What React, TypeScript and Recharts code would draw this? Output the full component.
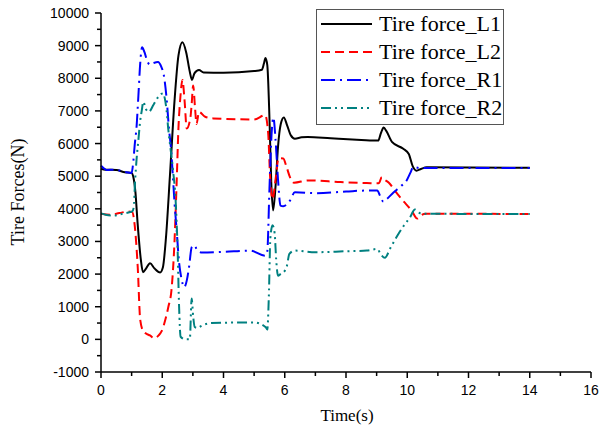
import React from "react";
import { LineChart, Line, XAxis, YAxis } from "recharts";

// [time (s), force (N)]
const tireL1: [number, number][] = [
  [0, 5230], [0.15, 5200], [0.5, 5190], [0.78, 5120], [1.0, 5100], [1.05, 5000],
  [1.12, 4550], [1.2, 3500], [1.3, 2450], [1.37, 2060], [1.47, 2170], [1.6, 2330],
  [1.75, 2170], [1.93, 2050], [2.02, 2200], [2.12, 3100], [2.25, 5000], [2.4, 7300],
  [2.53, 8700], [2.66, 9100], [2.78, 8800], [2.9, 8200], [2.97, 7950], [3.05, 8150],
  [3.2, 8250], [3.35, 8180], [4.0, 8170], [5.0, 8220], [5.25, 8260], [5.32, 8450],
  [5.37, 8620], [5.43, 8400], [5.5, 6800], [5.56, 4800], [5.62, 3950], [5.7, 4700],
  [5.78, 5900], [5.87, 6600], [5.97, 6800], [6.08, 6550], [6.2, 6250], [6.33, 6150],
  [6.55, 6190], [6.75, 6200], [7.5, 6160], [8.5, 6110], [9.05, 6090], [9.14, 6320],
  [9.23, 6490], [9.32, 6380], [9.5, 6050], [9.87, 5840], [10.05, 5680], [10.18, 5300],
  [10.3, 5170], [10.45, 5220], [10.63, 5270], [14, 5260],
];

const tireL2: [number, number][] = [
  [0, 3850], [0.3, 3820], [0.6, 3870], [0.9, 3920], [1.02, 3900], [1.1, 3500],
  [1.2, 2200], [1.28, 600], [1.38, 250], [1.49, 170], [1.6, 120], [1.74, 30],
  [1.88, 120], [1.98, 250], [2.1, 600], [2.2, 1000], [2.3, 1500], [2.4, 3000],
  [2.47, 4800], [2.53, 6500], [2.59, 7400], [2.66, 7950], [2.73, 7300], [2.8, 6460],
  [2.92, 6800], [2.96, 7200], [3.01, 7780], [3.07, 7100], [3.12, 6600], [3.2, 6970],
  [3.4, 6820], [3.67, 6770], [5.0, 6740], [5.36, 6870], [5.46, 6300], [5.52, 5000],
  [5.6, 4300], [5.7, 4900], [5.8, 5550], [5.95, 5540], [6.06, 5280], [6.17, 4970],
  [6.3, 4800], [6.77, 4870], [7.82, 4820], [8.68, 4790], [9.07, 4780], [9.17, 4970],
  [9.25, 4900], [9.4, 4800], [9.6, 4550], [9.86, 4250], [10.14, 3950], [10.33, 3700],
  [10.45, 3800], [10.6, 3850], [14, 3840],
];

const tireR1: [number, number][] = [
  [0, 5320], [0.08, 5250], [0.18, 5190], [0.45, 5200], [0.78, 5130], [1.0, 5100],
  [1.05, 5400], [1.1, 5950], [1.16, 6500], [1.22, 7450], [1.28, 8450], [1.34, 8950],
  [1.42, 8800], [1.5, 8550], [1.6, 8420], [1.72, 8470], [1.86, 8500], [1.97, 8350],
  [2.05, 8100], [2.14, 7400], [2.22, 6450], [2.29, 5800], [2.35, 4950], [2.4, 4200],
  [2.47, 3350], [2.55, 2350], [2.63, 1850], [2.72, 1600], [2.8, 1800], [2.88, 2250],
  [2.96, 2820], [3.05, 2880], [3.15, 2720], [3.3, 2660], [4.0, 2680], [4.87, 2720],
  [5.36, 2560], [5.43, 2700], [5.5, 4600], [5.57, 6300], [5.63, 6800], [5.7, 6100],
  [5.78, 4900], [5.86, 4100], [5.95, 4080], [6.17, 4250], [6.33, 4510], [7.0, 4480],
  [8.0, 4530], [8.68, 4560], [9.02, 4560], [9.12, 4380], [9.22, 4220], [9.33, 4300],
  [9.55, 4500], [9.8, 4700], [9.98, 4870], [10.1, 5100], [10.2, 5280], [10.4, 5250],
  [14, 5250],
];

const tireR2: [number, number][] = [
  [0, 3860], [0.15, 3820], [0.4, 3790], [0.7, 3850], [0.95, 3900], [1.02, 3920],
  [1.07, 4050], [1.11, 4800], [1.16, 5500], [1.22, 6100], [1.28, 6700], [1.33, 7000],
  [1.38, 7280], [1.47, 7050], [1.56, 6970], [1.71, 7180], [1.87, 7430], [1.97, 7520],
  [2.03, 7540], [2.08, 7400], [2.14, 7020], [2.2, 6410], [2.25, 6000], [2.35, 5200],
  [2.44, 4200], [2.5, 2800], [2.55, 1000], [2.6, 80], [2.75, 0], [2.9, 0],
  [2.96, 1250], [3.01, 700], [3.06, 380], [3.15, 350], [3.29, 420], [3.6, 500],
  [5.0, 520], [5.38, 370], [5.43, 300], [5.48, 1300], [5.53, 3100], [5.6, 3500],
  [5.67, 3250], [5.72, 2450], [5.78, 1950], [5.86, 2000], [6.0, 2100], [6.07, 2250],
  [6.15, 2620], [6.33, 2720], [7.0, 2670], [8.0, 2700], [8.68, 2720], [9.02, 2770],
  [9.14, 2600], [9.27, 2500], [9.45, 2800], [9.71, 3230], [9.9, 3500], [10.09, 3740],
  [10.25, 3980], [10.38, 3880], [10.5, 3850], [14, 3840],
];

const xTicks = [0, 1, 2, 3, 4, 5, 6, 7, 8, 9, 10, 11, 12, 13, 14, 15, 16];
const yTicks = [
  -1000, -500, 0, 500, 1000, 1500, 2000, 2500, 3000, 3500, 4000, 4500, 5000,
  5500, 6000, 6500, 7000, 7500, 8000, 8500, 9000, 9500, 10000,
];

const toRows = (pts: [number, number][]) => pts.map(([t, f]) => ({ t, f }));

const series = [
  { name: "Tire force_L1", data: toRows(tireL1), color: "#000000", dash: undefined },
  { name: "Tire force_L2", data: toRows(tireL2), color: "#FF0000", dash: "9 5" },
  { name: "Tire force_R1", data: toRows(tireR1), color: "#0000FF", dash: "14 5 2 5" },
  { name: "Tire force_R2", data: toRows(tireR2), color: "#008080", dash: "10 4 2 4 2 4" },
];

const tickFont = "'Liberation Sans', Arial, sans-serif";
const serifFont = "'Liberation Serif', 'Times New Roman', serif";

function YTick(props: any) {
  const { x, y, payload } = props;
  const major = payload.value % 1000 === 0;
  return (
    <g>
      <line x1={x} x2={x - (major ? 6 : 4)} y1={y} y2={y} stroke="#000" strokeWidth={1.5} />
      {major && (
        <text x={x - 12} y={y} dy={5} textAnchor="end" fontSize={14} fontFamily={tickFont} fill="#000">
          {payload.value}
        </text>
      )}
    </g>
  );
}

function XTick(props: any) {
  const { x, y, payload } = props;
  const major = payload.value % 2 === 0;
  return (
    <g>
      <line x1={x} x2={x} y1={y} y2={y + (major ? 6 : 4)} stroke="#000" strokeWidth={1.5} />
      {major && (
        <text x={x} y={y + 23} textAnchor="middle" fontSize={14} fontFamily={tickFont} fill="#000">
          {payload.value}
        </text>
      )}
    </g>
  );
}

function LegendBox() {
  return (
    <div
      style={{
        position: "absolute",
        left: 316,
        top: 9,
        border: "1px solid #555",
        background: "#fff",
        width: 186,
        padding: "0 0 2px 0",
        fontFamily: serifFont,
        fontSize: 22,
        lineHeight: "28px",
      }}
    >
      {series.map((s) => (
        <div key={s.name} style={{ display: "flex", alignItems: "center", height: 28 }}>
          <svg width={62} height={28} style={{ flex: "none" }}>
            <line x1={4} x2={55} y1={14} y2={14} stroke={s.color} strokeWidth={2} strokeDasharray={s.dash} />
          </svg>
          <span style={{ whiteSpace: "nowrap" }}>{s.name}</span>
        </div>
      ))}
    </div>
  );
}

export default function App() {
  return (
    <div style={{ position: "fixed", left: 0, top: 0, width: 599, height: 430, background: "#fff" }}>
      <style>{`body { margin: 0; } .recharts-surface { overflow: visible; }`}</style>
      <LineChart
        width={599}
        height={430}
        margin={{ top: 13, right: 8, left: 0, bottom: 28 }}
        style={{ overflow: "visible" }}
      >
        <XAxis
          dataKey="t"
          type="number"
          domain={[0, 16]}
          ticks={xTicks}
          interval={0}
          allowDuplicatedCategory={false}
          tickLine={false}
          tickSize={0}
          tickMargin={0}
          height={30}
          axisLine={{ stroke: "#000", strokeWidth: 1.5 }}
          tick={<XTick />}
        />
        <YAxis
          type="number"
          domain={[-1000, 10000]}
          ticks={yTicks}
          interval={0}
          width={101}
          tickLine={false}
          tickSize={0}
          tickMargin={0}
          axisLine={{ stroke: "#000", strokeWidth: 1.5 }}
          tick={<YTick />}
        />
        {series.map((s) => (
          <Line
            key={s.name}
            data={s.data}
            dataKey="f"
            name={s.name}
            type="monotone"
            stroke={s.color}
            strokeWidth={2}
            strokeDasharray={s.dash}
            dot={false}
            activeDot={false}
            isAnimationActive={false}
          />
        ))}
      </LineChart>
      <LegendBox />
      <div
        style={{
          position: "absolute",
          left: 18,
          top: 192,
          transform: "translate(-50%, -50%) rotate(-90deg)",
          fontFamily: serifFont,
          fontSize: 18,
          whiteSpace: "nowrap",
        }}
      >
        Tire Forces(N)
      </div>
      <div
        style={{
          position: "absolute",
          left: 347,
          top: 416,
          transform: "translate(-50%, -50%)",
          fontFamily: serifFont,
          fontSize: 17,
          whiteSpace: "nowrap",
        }}
      >
        Time(s)
      </div>
    </div>
  );
}
